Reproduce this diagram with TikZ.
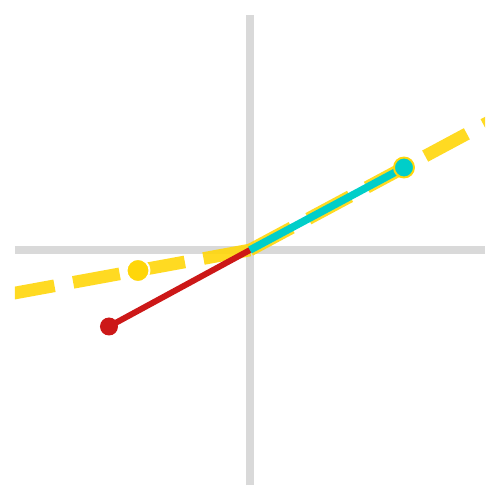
\documentclass[tikz,border=0pt]{standalone}
\definecolor{axisgray}{RGB}{217,217,217}
\definecolor{goldline}{RGB}{255,214,10}
\definecolor{redline}{RGB}{204,24,24}
\definecolor{cyanline}{RGB}{0,206,201}
\begin{document}
\begin{tikzpicture}[
	axis/.style={axisgray, line width=4.4pt},
	guide/.style={goldline, line width=7.2pt, opacity=0.9, dash pattern=on 26.9pt off 10.8pt},
	vec/.style={line width=#1}]
	\useasboundingbox (-5,-5) rectangle (5,5);
	\coordinate (O) at (0,0);
	\coordinate (yl) at (-5,-0.915);
	\coordinate (yr) at (5,2.68);
	\coordinate (ypt) at (-2.24,-0.41);
	\coordinate (rpt) at (-2.82,-1.53);
	\coordinate (cpt) at (3.08,1.65);

	\draw[axis] (-4.7,0) -- (4.7,0);
	\draw[axis] (0,-4.7) -- (0,4.7);

	\begin{scope}
		\clip (-4.7,-4.7) rectangle (4.7,4.7);
		\draw[guide] (O) -- (yl);
		\draw[guide] (O) -- (yr);
	\end{scope}

	\draw[vec=3.4pt, redline] (O) -- (rpt);
	\draw[vec=4.3pt, cyanline] (O) -- (cpt);

	\filldraw[goldline, draw=white, line width=1.1pt] (ypt) circle (0.23);
	\fill[redline] (rpt) circle (0.18);
	\filldraw[fill=cyanline, draw=goldline, line width=1.1pt] (cpt) circle (0.2);
\end{tikzpicture}
\end{document}
